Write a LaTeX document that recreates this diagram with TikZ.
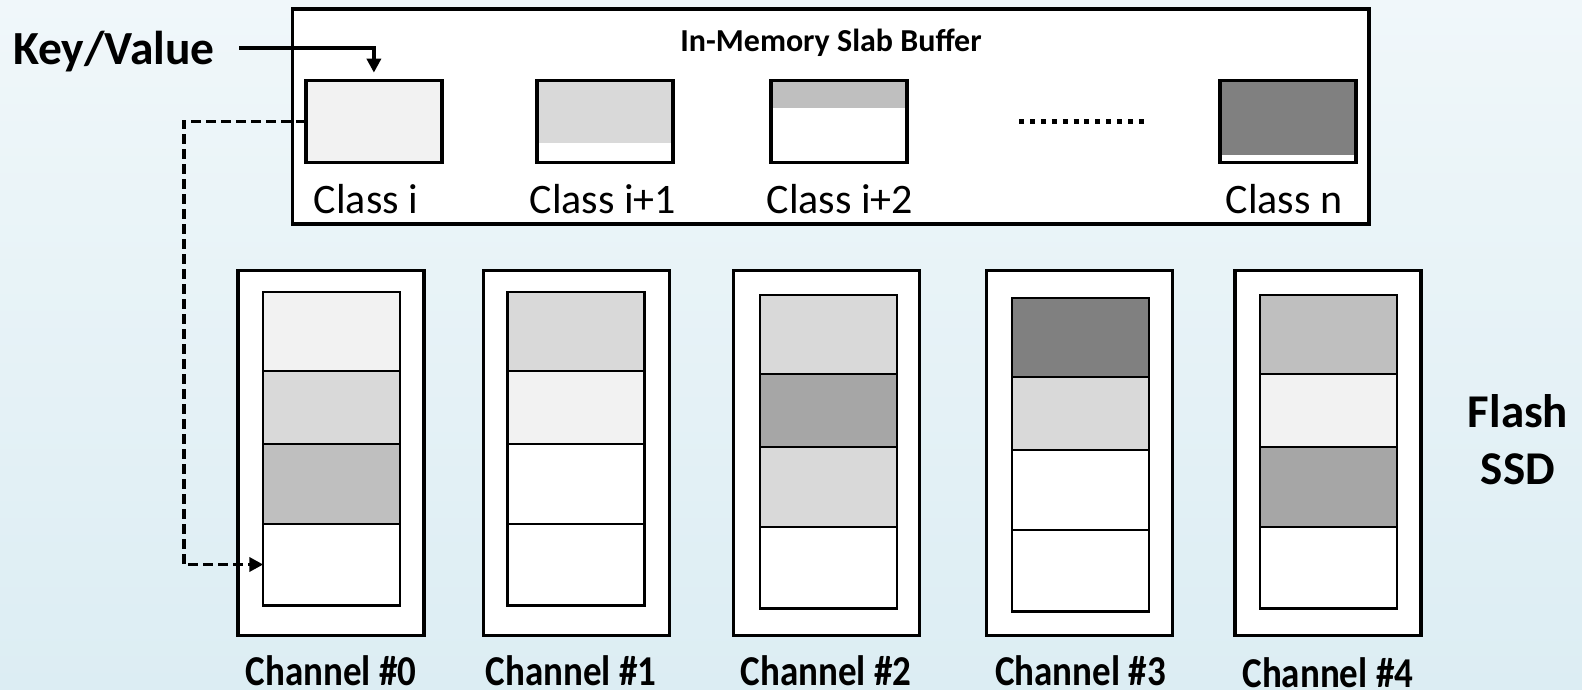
\documentclass[tikz,border=0pt]{standalone}
\usepackage{fontspec}
\setmainfont{Carlito}
\usetikzlibrary{arrows.meta}
\definecolor{bgtop}{RGB}{240,247,250}
\definecolor{bgbot}{RGB}{220,237,243}
\definecolor{ca}{RGB}{242,242,242}
\definecolor{cb}{RGB}{217,217,217}
\definecolor{cc}{RGB}{191,191,191}
\definecolor{cd}{RGB}{166,166,166}
\definecolor{ce}{RGB}{128,128,128}
\tikzset{
  chbox/.style={draw=black, line width=3.5pt, fill=white, inner sep=0pt, outer sep=0pt, minimum width=186pt, minimum height=365pt, anchor=north west},
  cell/.style={draw=black, line width=2.2pt, inner sep=0pt, outer sep=0pt, minimum width=137pt, anchor=north west},
  cls/.style={draw=black, line width=3.2pt, fill=white, inner sep=0pt, outer sep=0pt, minimum width=136pt, minimum height=81.7pt},
  bufbox/.style={draw=black, line width=3.5pt, fill=white, inner sep=0pt, outer sep=0pt},
  arr/.style={line width=3.8pt, -{Triangle[length=14pt,width=14pt]}},
  darr/.style={line width=3.8pt, dash pattern=on 10pt off 5pt, -{Triangle[length=14pt,width=14pt]}},
  chlabel/.style={font=\bfseries\fontsize{37}{44}\selectfont, inner sep=0pt, anchor=base},
  clslabel/.style={font=\fontsize{42}{50}\selectfont, inner sep=0pt, anchor=base},
}
\newcommand{\tallt}[1]{\scalebox{1}[1.15]{#1}}
\begin{document}
\begin{tikzpicture}[x=1pt,y=-1pt]
\useasboundingbox (0,0) rectangle (1582,690);
\shade[top color=bgtop, bottom color=bgbot] (0,0) rectangle (1582,690);

% In-memory slab buffer
\node[bufbox, minimum width=1076.4pt, minimum height=215pt, anchor=north west] (buf) at (292.6,9) {};
\node[font=\bfseries\fontsize{32}{38}\selectfont, inner sep=0pt, anchor=base] (title) at (831,51.5) {In-Memory Slab Buffer};

\node[cls, fill=ca] (ci) at (373.9,121.5) {};
\node[cls, path picture={\fill[cb] (path picture bounding box.north west) rectangle ([yshift=19pt]path picture bounding box.south east);}] (cj) at (604.9,121.5) {};
\node[cls, path picture={\fill[cc] (path picture bounding box.north west) rectangle ([yshift=-27pt]path picture bounding box.north east);}] (ck) at (838.9,121.5) {};
\node[cls, path picture={\fill[ce] (path picture bounding box.north west) rectangle ([yshift=7pt]path picture bounding box.south east);}] (cn) at (1287.9,121.5) {};

\draw[line width=5pt, dash pattern=on 5pt off 5.9pt] (1019,121.7) -- (1144,121.7);

\node[clslabel] (li) at (366,213.5) {Class i};
\node[clslabel] (lj) at (603,213.5) {Class i+1};
\node[clslabel] (lk) at (840,213.5) {Class i+2};
\node[clslabel] (ln) at (1284,213.5) {Class n};

% Key/Value
\node[font=\bfseries\fontsize{47.5}{56}\selectfont, inner sep=0pt, anchor=base west] (kv) at (13,65) {Key/Value};
\coordinate (kvs) at (239,48.4);
\draw[arr, shorten >=8pt] (kvs) -| (ci.north);

% Channels
\foreach \n/\ox/\ix/\ty/\fa/\fb/\fc/\fd in {
  0/238/263.3/291.6/ca/cb/cc/white,
  1/483.3/507.5/291.6/cb/ca/white/white,
  2/733.5/759.7/294.6/cb/cd/cb/white,
  3/986.7/1012/297.6/ce/cb/white/white,
  4/1235/1260/294.6/cc/ca/cd/white}{
  \node[chbox] (ch\n) at (\ox,270.4) {};
  \node[cell, fill=\fa, minimum height=79.7pt] (ch\n-r1) at (\ix,\ty) {};
  \node[cell, fill=\fb, minimum height=72.7pt] (ch\n-r2) at (ch\n-r1.south west) {};
  \node[cell, fill=\fc, minimum height=79.6pt] (ch\n-r3) at (ch\n-r2.south west) {};
  \node[cell, fill=\fd, minimum height=81.8pt] (ch\n-r4) at (ch\n-r3.south west) {};
}

\node[chlabel] (l0) at (331,685) {\tallt{Channel \#0}};
\node[chlabel] (l1) at (571,685) {\tallt{Channel \#1}};
\node[chlabel] (l2) at (826,685) {\tallt{Channel \#2}};
\node[chlabel] (l3) at (1080.6,685) {\tallt{Channel \#3}};
\node[chlabel] (l4) at (1327.8,687) {\tallt{Channel \#4}};

\node[font=\bfseries\fontsize{47}{57}\selectfont, align=center, inner sep=0pt] (ssd) at (1518,440) {Flash\\SSD};

% dashed connector
\coordinate (dk) at (183.6,121.5);
\draw[darr] (ci.west) -- (dk) |- (ch0-r4.west);
\end{tikzpicture}
\end{document}
